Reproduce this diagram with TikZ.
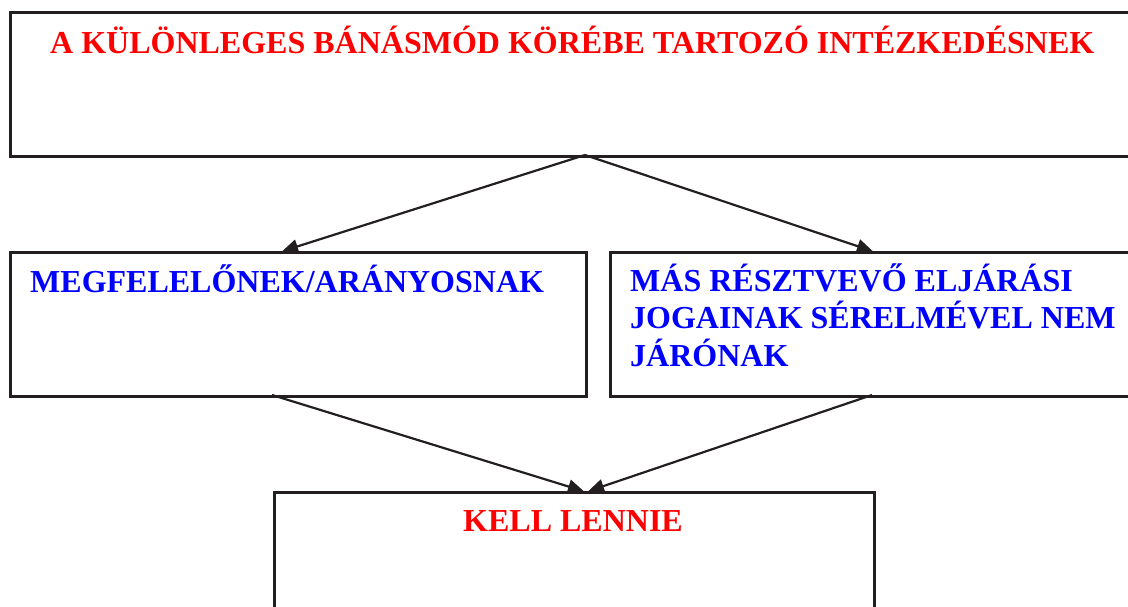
\documentclass[tikz,border=0pt]{standalone}
\usepackage{fontspec}
\setmainfont{Liberation Serif}
\usetikzlibrary{arrows.meta,calc}
\definecolor{lineink}{RGB}{35,31,32}
\definecolor{titlered}{RGB}{255,0,0}
\definecolor{noteblue}{RGB}{0,0,255}
\begin{document}
\begin{tikzpicture}[x=1pt,y=-1pt,
  panel/.style={draw=lineink,line width=2.6pt,rectangle,inner sep=0pt,anchor=north west},
  flow/.style={draw=lineink,line width=2.2pt,-{Triangle[length=16pt,width=14pt]},shorten >=-1pt},
  label/.style={inner sep=0pt,anchor=base west,font=\fontsize{32}{38}\selectfont\bfseries}]
\useasboundingbox (0,0) rectangle (1128,606);
\clip (0,0) rectangle (1128,606);
% frames
\node[panel,minimum width=1152pt,minimum height=144pt] (top) at (9,11) {};
\node[panel,minimum width=576pt,minimum height=144pt] (lbox) at (9,251) {};
\node[panel,minimum width=560pt,minimum height=144pt] (rbox) at (609,251) {};
\node[panel,minimum width=600pt,minimum height=150pt] (bot) at (273,491) {};
% captions
\node[label,text=titlered] (ttl) at (50,53) {A KÜLÖNLEGES BÁNÁSMÓD KÖRÉBE TARTOZÓ INTÉZKEDÉSNEK};
\node[label,text=noteblue] (lt) at (30,292) {MEGFELELŐNEK/ARÁNYOSNAK};
\node[label,text=noteblue] (rt1) at (630,291) {MÁS RÉSZTVEVŐ ELJÁRÁSI};
\node[label,text=noteblue] (rt2) at (630,328) {JOGAINAK SÉRELMÉVEL NEM};
\node[label,text=noteblue] (rt3) at (630,366) {JÁRÓNAK};
\node[label,text=titlered,anchor=base] (bt) at (573,531) {KELL LENNIE};
% connector end points
\coordinate (apex) at (585,155);
\coordinate (linL) at (283,251);
\coordinate (linR) at (872,251);
\coordinate (loutL) at (272,395);
\coordinate (loutR) at (872,395);
\coordinate (binL) at (583,491);
\coordinate (binR) at (589,491);
% connectors
\draw[flow] (apex) -- (linL);
\draw[flow] (apex) -- (linR);
\draw[flow] (loutL) -- (binL);
\draw[flow] (loutR) -- (binR);
\end{tikzpicture}
\end{document}
